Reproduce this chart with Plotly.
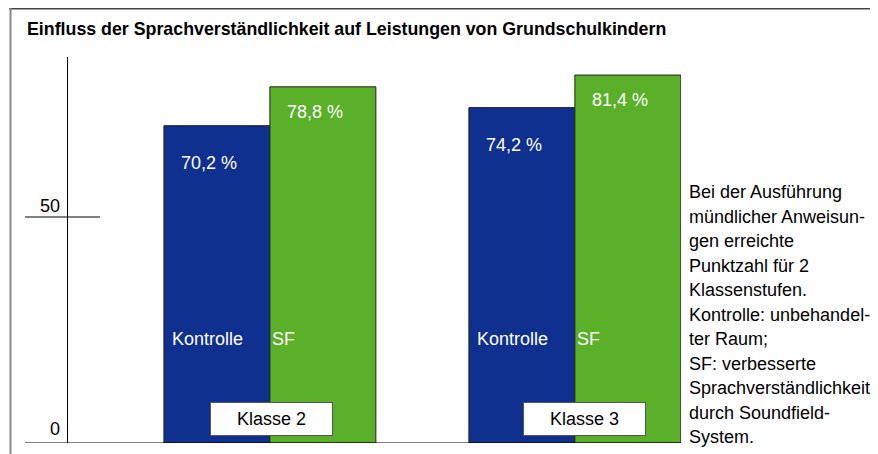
import plotly.graph_objects as go

# ---- data ----
klassen = ["Klasse 2", "Klasse 3"]
kontrolle = [70.2, 74.2]
sf = [78.8, 81.4]
series_names = ["Kontrolle", "SF"]
y_ticks = [50, 0]
title = "Einfluss der Sprachverständlichkeit auf Leistungen von Grundschulkindern"
side_lines = [
    "Bei der Ausführung",
    "mündlicher Anweisun-",
    "gen erreichte",
    "Punktzahl für 2",
    "Klassenstufen.",
    "Kontrolle: unbehandel-",
    "ter Raum;",
    "SF: verbesserte",
    "Sprachverständlichkeit",
    "durch Soundfield-",
    "System.",
]

def fmt(v):
    return f"{v:.1f}".replace(".", ",") + " %"

OFF = 8  # page body margin
W, H = 878 - OFF, 454 - OFF
L, T, R, B = 68, 57, 681, 443   # plot area in page pixels
PW, PH = R - L, B - T

def xp(px):
    return (px - L) / PW

def yp(py):
    return (B - py) / PH

BLUE = "#10308f"
GREEN = "#5ab028"
FONT = "Liberation Sans, Arial, Helvetica, sans-serif"
FS = 18

fig = go.Figure()
fig.add_trace(go.Bar(x=klassen, y=kontrolle, name=series_names[0],
                     marker=dict(color=BLUE, line=dict(color="#222", width=1))))
fig.add_trace(go.Bar(x=klassen, y=sf, name=series_names[1],
                     marker=dict(color=GREEN, line=dict(color="#222", width=1))))

ann = []
bw = 106
box_shift = [2, 10]
for i, k in enumerate(klassen):
    ann.append(dict(x=k, y=kontrolle[i], xref="x", yref="y", text=fmt(kontrolle[i]),
                    showarrow=False, xanchor="left", yanchor="middle",
                    xshift=-bw + 15, yshift=-37,
                    font=dict(family=FONT, size=FS, color="white")))
    ann.append(dict(x=k, y=sf[i], xref="x", yref="y", text=fmt(sf[i]),
                    showarrow=False, xanchor="left", yanchor="middle",
                    xshift=15, yshift=-25,
                    font=dict(family=FONT, size=FS, color="white")))
    ann.append(dict(x=k, y=yp(339), xref="x", yref="paper", text=series_names[0],
                    showarrow=False, xanchor="left", yanchor="middle",
                    xshift=-bw + 6, font=dict(family=FONT, size=FS, color="white")))
    ann.append(dict(x=k, y=yp(339), xref="x", yref="paper", text=series_names[1],
                    showarrow=False, xanchor="left", yanchor="middle",
                    xshift=0, font=dict(family=FONT, size=FS, color="white")))
    ann.append(dict(x=k, y=yp(419), xref="x", yref="paper", text=k,
                    showarrow=False, xanchor="center", yanchor="middle", xshift=box_shift[i],
                    width=121, height=32, bgcolor="white", bordercolor="#555",
                    borderwidth=1, borderpad=0,
                    font=dict(family=FONT, size=FS, color="black")))

for v, py in zip(y_ticks, [206, 429]):
    ann.append(dict(x=xp(62), y=yp(py), xref="paper", yref="paper", text=str(v),
                    showarrow=False, xanchor="right", yanchor="middle",
                    font=dict(family=FONT, size=FS, color="black")))

ann.append(dict(x=xp(25), y=yp(29), xref="paper", yref="paper", text="<b>" + title + "</b>",
                showarrow=False, xanchor="left", yanchor="middle",
                font=dict(family=FONT, size=17.8, color="black")))

for j, line in enumerate(side_lines):
    ann.append(dict(x=xp(687), y=yp(192 + j * 24.5), xref="paper", yref="paper", text=line,
                    showarrow=False, xanchor="left", yanchor="middle",
                    font=dict(family=FONT, size=FS, color="black")))

shapes = [
    dict(type="line", xref="paper", yref="paper", x0=xp(9), x1=xp(880), y0=yp(8.5), y1=yp(8.5),
         line=dict(color="#444", width=2)),
    dict(type="line", xref="paper", yref="paper", x0=xp(10.5), x1=xp(10.5), y0=yp(8), y1=yp(456),
         line=dict(color="#888", width=2)),
    dict(type="line", xref="paper", yref="y", x0=xp(25), x1=1, y0=0, y1=0,
         line=dict(color="black", width=1)),
    dict(type="line", xref="paper", yref="y", x0=xp(25), x1=xp(100), y0=50, y1=50,
         line=dict(color="black", width=1)),
]

fig.update_layout(
    width=W, height=H,
    margin=dict(l=L - OFF, r=878 - R, t=T - OFF, b=454 - B),
    paper_bgcolor="white", plot_bgcolor="white",
    showlegend=False,
    barmode="group", bargap=0.305, bargroupgap=0,
    annotations=ann, shapes=shapes,
    xaxis=dict(range=[-0.662, 1.348], showticklabels=False, showgrid=False,
               zeroline=False, showline=False, ticks=""),
    yaxis=dict(range=[0, 85.4], showticklabels=False, showgrid=False, zeroline=False,
               showline=True, linecolor="black", linewidth=1, ticks=""),
)

fig.write_html("out.html")
